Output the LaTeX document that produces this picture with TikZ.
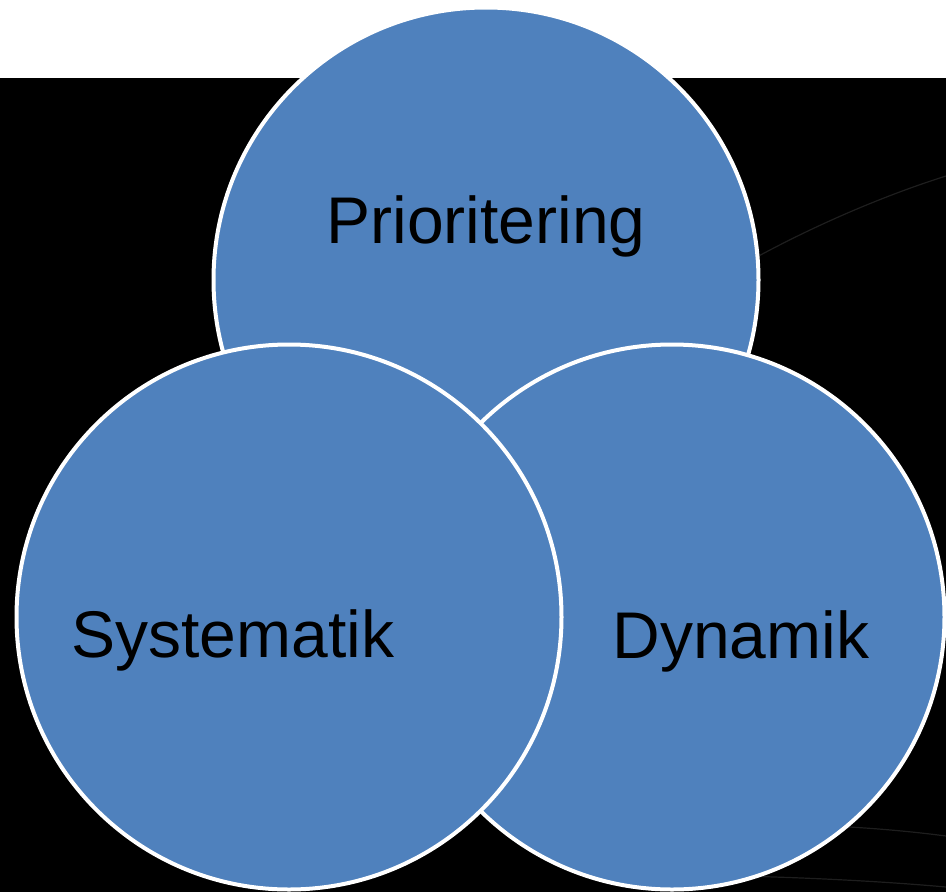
\documentclass[tikz,border=0pt]{standalone}
\usepackage{fontspec}
\setmainfont{Liberation Sans}
\definecolor{venn}{HTML}{4F81BD}
\definecolor{faint}{HTML}{1E1E1E}
\begin{document}
\begin{tikzpicture}[x=1pt,y=-1pt,
  vcircle/.style={circle,fill=venn,draw=white,line width=4pt,minimum size=545pt,inner sep=0pt},
  vlabel/.style={anchor=base,inner sep=0pt,text=black,font=\fontsize{66}{79}\selectfont},
  bgline/.style={draw=faint,line width=1.2pt}]
\useasboundingbox (0,0) rectangle (946,892);
\fill[white] (0,0) rectangle (946,78);
\fill[black] (0,78) rectangle (946,892);
% faint background arcs
\draw[bgline] (700,290) .. controls (780,240) and (870,200) .. (946,176);
\draw[bgline] (780,824) .. controls (850,826) and (900,830) .. (946,836);
\draw[bgline] (740,876) .. controls (820,878) and (890,882) .. (946,887);
% circles
\node[vcircle] (top) at (486,280) {};
\node[vcircle] (right) at (672,617) {};
\node[vcircle] (left) at (289,617) {};
% labels
\node[vlabel] (ptext) at (486,243) {Prioritering};
\node[vlabel] (stext) at (233,657) {Systematik};
\node[vlabel] (dtext) at (741,658) {Dynamik};
\end{tikzpicture}
\end{document}
